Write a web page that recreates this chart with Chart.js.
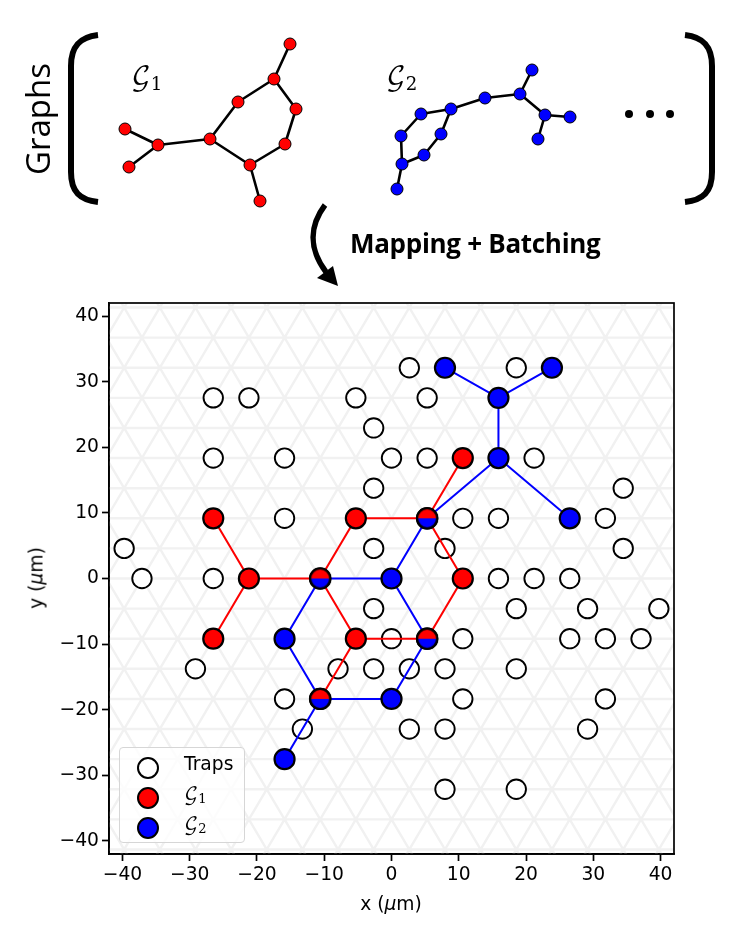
<!DOCTYPE html>
<html>
<head>
<meta charset="utf-8">
<title>Graph mapping</title>
<script src="https://cdn.jsdelivr.net/npm/chart.js@4"></script>
<style>
  html, body { margin: 0; padding: 0; background: #fff; }
  body { position: relative; width: 747px; height: 946px; overflow: hidden; font-family: "DejaVu Sans", sans-serif; color: #000; }
  canvas { position: absolute; left: 0; top: 0; }
  .label { position: absolute; white-space: nowrap; }
  .script { font-family: "DejaVu Math TeX Gyre", "DejaVu Sans", serif; }
  sub { font-size: 70%; vertical-align: -0.25em; line-height: 0; }
  #graphs-title { left: 37px; top: 119px; font: 33px "Open Sans", sans-serif; transform: translate(-50%, -50%) rotate(-90deg); }
  #mapping-title { left: 350px; top: 225px; font: bold 26px "Open Sans", sans-serif; letter-spacing: -0.3px; }
  #x-title { left: 391px; top: 893px; font-size: 18.7px; transform: translateX(-50%); }
  #y-title { left: 36px; top: 578px; font-size: 18.7px; transform: translate(-50%, -50%) rotate(-90deg); }
  #legend { position: absolute; left: 119px; top: 747px; width: 124px; height: 94px; border: 1.7px solid #d6d6d6; border-radius: 4px; background: rgba(255,255,255,0.8); }
  #legend .row { position: absolute; left: 0; height: 30px; width: 100%; }
  #legend .dot { position: absolute; left: 17px; top: 4px; width: 18px; height: 18px; border: 2px solid #000; border-radius: 50%; }
  #legend .name { position: absolute; left: 64px; top: 0; font-size: 18.7px; }
  #sketch { position: absolute; left: 0; top: 0; }
</style>
</head>
<body>
<canvas id="main-chart" width="747" height="946"></canvas>
<canvas id="top-chart" width="747" height="300"></canvas>

<svg id="sketch" width="747" height="300" fill="none" stroke="#000">
  <path d="M98 35 C80 37 71 46 71 66 L71 172 C71 192 80 200 98 202" stroke-width="6"/>
  <path d="M685 35 C703 37 712 46 712 66 L712 172 C712 192 703 200 685 202" stroke-width="6"/>
  <path d="M325 205 C310 225 308 248 326 272" stroke-width="5.5"/>
  <path d="M338 286 L317 278 L333 266 Z" fill="#000" stroke="none"/>
</svg>

<div class="label" id="graphs-title">Graphs</div>
<div class="label" id="mapping-title">Mapping + Batching</div>
<div class="label script" style="left:131px;top:62px;font-size:26px">&#x1D4A2;<sub>1</sub></div>
<div class="label script" style="left:386px;top:62px;font-size:26px">&#x1D4A2;<sub>2</sub></div>
<div class="label" id="x-title">x (<i>&mu;</i>m)</div>
<div class="label" id="y-title">y (<i>&mu;</i>m)</div>
<div id="legend"></div>

<script>
// axis ticks
const axisTicks = [-40, -30, -20, -10, 0, 10, 20, 30, 40];

// empty traps
const trapX = [2.65, 18.55, -26.5, -21.2, -5.3, 5.3, -2.65, -26.5, -15.9, 0, 5.3, 21.2, -2.65, 34.45, -15.9, 10.6, 15.9, 31.8, -39.75, -2.65, 7.95, 34.45, -37.1, -26.5, 15.9, 21.2, 26.5, -2.65, 18.55, 29.15, 39.75, 0, 10.6, 26.5, 31.8, 37.1, -29.15, -7.95, -2.65, 2.65, 7.95, 18.55, -15.9, 10.6, 31.8, -13.25, 2.65, 7.95, 29.15, 7.95, 18.55];
const trapY = [32.13, 32.13, 27.54, 27.54, 27.54, 27.54, 22.95, 18.36, 18.36, 18.36, 18.36, 18.36, 13.77, 13.77, 9.18, 9.18, 9.18, 9.18, 4.59, 4.59, 4.59, 4.59, 0, 0, 0, 0, 0, -4.59, -4.59, -4.59, -4.59, -9.18, -9.18, -9.18, -9.18, -9.18, -13.77, -13.77, -13.77, -13.77, -13.77, -13.77, -18.36, -18.36, -18.36, -22.95, -22.95, -22.95, -22.95, -32.13, -32.13];

// G1 mapped on the traps
const g1X = [-26.5, -26.5, -21.2, -10.6, -5.3, 5.3, 10.6, 10.6, 5.3, -5.3, -10.6];
const g1Y = [9.18, -9.18, 0, 0, 9.18, 9.18, 18.36, 0, -9.18, -9.18, -18.36];
const g1Edges = [[0, 2], [1, 2], [2, 3], [3, 4], [4, 5], [5, 6], [5, 7], [7, 8], [8, 9], [9, 3], [9, 10]];

// G2 mapped on the traps
const g2X = [7.95, 23.85, 15.9, 15.9, 26.5, 5.3, 0, -10.6, -15.9, -10.6, 0, 5.3, -15.9];
const g2Y = [32.13, 32.13, 27.54, 18.36, 9.18, 9.18, 0, 0, -9.18, -18.36, -18.36, -9.18, -27.54];
const g2Edges = [[0, 2], [1, 2], [2, 3], [3, 4], [3, 5], [5, 6], [6, 7], [7, 8], [8, 9], [9, 10], [10, 11], [11, 6], [9, 12]];

// traps used by both graphs
const sharedX = [5.3, -10.6, 5.3, -10.6];
const sharedY = [9.18, 0, -9.18, -18.36];

// background lattice
const latticeRows = [-41.31, -36.72, -32.13, -27.54, -22.95, -18.36, -13.77, -9.18, -4.59, 0, 4.59, 9.18, 13.77, 18.36, 22.95, 27.54, 32.13, 36.72, 41.31];
const latticeFeet = [-90.1, -84.8, -79.5, -74.2, -68.9, -63.6, -58.3, -53, -47.7, -42.4, -37.1, -31.8, -26.5, -21.2, -15.9, -10.6, -5.3, 0, 5.3, 10.6, 15.9, 21.2, 26.5, 31.8, 37.1, 42.4, 47.7, 53, 58.3, 63.6, 68.9, 74.2, 79.5, 84.8, 90.1];
const latticeRun = 27.54; // x shift of a diagonal between y=0 and y=+-47.7

// upper sketch, in page pixels
const sketch1X = [290, 274, 238, 296, 210, 285, 250, 260, 158, 125, 129];
const sketch1Y = [44, 79, 102, 109, 139, 144, 165, 201, 145, 129, 167];
const sketch1Edges = [[0, 1], [1, 2], [1, 3], [3, 5], [5, 6], [6, 7], [6, 4], [4, 2], [4, 8], [8, 9], [8, 10]];
const sketch2X = [532, 520, 485, 451, 421, 401, 441, 424, 402, 397, 545, 570, 538];
const sketch2Y = [70, 94, 98, 109, 114, 136, 134, 155, 164, 189, 115, 117, 139];
const sketch2Edges = [[0, 1], [1, 2], [2, 3], [3, 4], [4, 5], [5, 8], [8, 9], [8, 7], [7, 6], [6, 3], [1, 10], [10, 11], [10, 12]];
const dotsX = [629, 650, 670];
const dotsY = [114, 114, 114];

const RED = '#ff0000';
const BLUE = '#0000ff';

const points = (xs, ys) => xs.map((x, i) => ({ x, y: ys[i] }));

// null points break the line between two edges
const edgePoints = (xs, ys, edges) => {
  const out = [];
  edges.forEach(([a, b]) => {
    out.push({ x: xs[a], y: ys[a] }, { x: xs[b], y: ys[b] }, { x: null, y: null });
  });
  return out;
};

const latticePoints = () => {
  const out = [];
  latticeRows.forEach(y => out.push({ x: -42, y }, { x: 42, y }, { x: null, y: null }));
  latticeFeet.forEach(x => {
    out.push({ x: x - latticeRun, y: -47.7 }, { x: x + latticeRun, y: 47.7 }, { x: null, y: null });
    out.push({ x: x + latticeRun, y: -47.7 }, { x: x - latticeRun, y: 47.7 }, { x: null, y: null });
  });
  return out;
};

// half red, half blue marker for the shared traps
const halfMarker = () => {
  const c = document.createElement('canvas');
  c.width = 24;
  c.height = 24;
  const g = c.getContext('2d');
  g.fillStyle = RED;
  g.fillRect(0, 0, 24, 12);
  g.fillStyle = BLUE;
  g.fillRect(0, 12, 24, 12);
  g.globalCompositeOperation = 'destination-in';
  g.beginPath();
  g.arc(12, 12, 10.2, 0, Math.PI * 2);
  g.fill();
  g.globalCompositeOperation = 'source-over';
  g.lineWidth = 2.2;
  g.strokeStyle = '#000';
  g.beginPath();
  g.arc(12, 12, 10, 0, Math.PI * 2);
  g.stroke();
  return c;
};

const lineSet = (data, color, width, order) => ({
  data, showLine: true, borderColor: color, borderWidth: width, pointRadius: 0, spanGaps: false, order
});

const dotSet = (label, data, fill, radius, edge, order) => ({
  label, data, showLine: false, pointRadius: radius, pointHoverRadius: radius,
  backgroundColor: fill, borderColor: '#000', borderWidth: edge, order
});

const frame = {
  id: 'frame',
  afterDatasetsDraw(chart) {
    const { ctx, chartArea: a } = chart;
    ctx.save();
    ctx.strokeStyle = '#000';
    ctx.lineWidth = 1.7;
    ctx.strokeRect(a.left, a.top, a.right - a.left, a.bottom - a.top);
    ctx.restore();
  }
};

const tickStyle = {
  color: '#000',
  font: { family: '"DejaVu Sans"', size: 18.7 },
  padding: 3,
  autoSkip: false,
  maxRotation: 0,
  callback: value => String(value).replace('-', '\u2212')
};

new Chart(document.getElementById('main-chart'), {
  type: 'scatter',
  data: {
    datasets: [
      lineSet(latticePoints(), '#f1f1f1', 2.4, 10),
      dotSet('Traps', points(trapX, trapY), '#fff', 9.7, 1.9, 9),
      lineSet(edgePoints(g1X, g1Y, g1Edges), RED, 2, 8),
      lineSet(edgePoints(g2X, g2Y, g2Edges), BLUE, 2, 7),
      dotSet('G1', points(g1X, g1Y), RED, 10, 2.2, 6),
      dotSet('G2', points(g2X, g2Y), BLUE, 10, 2.2, 5),
      { data: points(sharedX, sharedY), showLine: false, pointStyle: halfMarker(), pointRadius: 10, order: 4 }
    ]
  },
  options: {
    responsive: false,
    animation: false,
    events: [],
    layout: { padding: { top: 303, right: 73, left: 0, bottom: 0 } },
    plugins: { legend: { display: false }, tooltip: { enabled: false } },
    scales: {
      x: {
        min: -42, max: 42,
        afterBuildTicks: s => { s.ticks = axisTicks.map(value => ({ value })); },
        afterFit: s => { s.height = 92; },
        ticks: tickStyle,
        grid: { drawOnChartArea: false, tickColor: '#000', tickWidth: 1.7, tickLength: 7 },
        border: { color: '#000', width: 1.7 }
      },
      y: {
        min: -42, max: 42,
        afterBuildTicks: s => { s.ticks = axisTicks.map(value => ({ value })); },
        afterFit: s => { s.width = 109; },
        ticks: tickStyle,
        grid: { drawOnChartArea: false, tickColor: '#000', tickWidth: 1.7, tickLength: 7 },
        border: { color: '#000', width: 1.7 }
      }
    }
  },
  plugins: [frame]
});

new Chart(document.getElementById('top-chart'), {
  type: 'scatter',
  data: {
    datasets: [
      lineSet(edgePoints(sketch1X, sketch1Y, sketch1Edges), '#000', 2.6, 5),
      lineSet(edgePoints(sketch2X, sketch2Y, sketch2Edges), '#000', 2.6, 4),
      dotSet('G1', points(sketch1X, sketch1Y), RED, 6, 1, 3),
      dotSet('G2', points(sketch2X, sketch2Y), BLUE, 6, 1, 2),
      dotSet('more', points(dotsX, dotsY), '#000', 4, 0, 1)
    ]
  },
  options: {
    responsive: false,
    animation: false,
    events: [],
    layout: { padding: 0, autoPadding: false },
    plugins: { legend: { display: false }, tooltip: { enabled: false } },
    scales: {
      x: { display: false, min: 0, max: 747 },
      y: { display: false, min: 0, max: 300, reverse: true }
    }
  }
});

// legend
const legendRows = [
  { html: 'Traps', color: '#fff' },
  { html: '<span class="script">&#x1D4A2;<sub>1</sub></span>', color: RED },
  { html: '<span class="script">&#x1D4A2;<sub>2</sub></span>', color: BLUE }
];
const legend = document.getElementById('legend');
legendRows.forEach((row, i) => {
  const div = document.createElement('div');
  div.className = 'row';
  div.style.top = (5 + i * 30) + 'px';
  div.innerHTML = `<span class="dot" style="background:${row.color}"></span><span class="name">${row.html}</span>`;
  legend.appendChild(div);
});
</script>
</body>
</html>
